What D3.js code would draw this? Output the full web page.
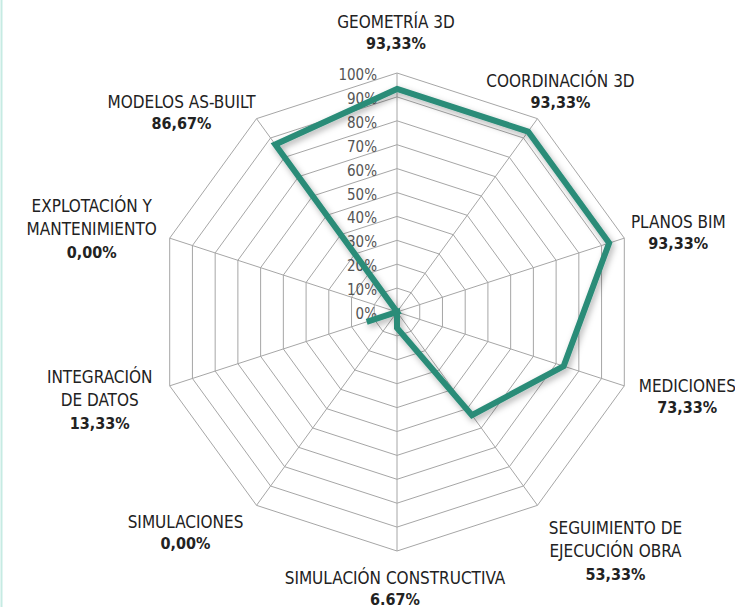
<!DOCTYPE html>
<html>
<head>
<meta charset="utf-8">
<script src="https://cdn.jsdelivr.net/npm/d3@7"></script>
<style>
  body { margin: 0; background: #fff; }
  svg { display: block; }
  .lab { font-family: "Liberation Sans Narrow", "DejaVu Sans Condensed", sans-serif; fill: #222; }
</style>
</head>
<body>
<div id="chart"></div>
<script>
// data
var categories = [
    ["GEOMETRÍA 3D"],
    ["COORDINACIÓN 3D"],
    ["PLANOS BIM"],
    ["MEDICIONES"],
    ["SEGUIMIENTO DE", "EJECUCIÓN OBRA"],
    ["SIMULACIÓN CONSTRUCTIVA"],
    ["SIMULACIONES"],
    ["INTEGRACIÓN", "DE DATOS"],
    ["EXPLOTACIÓN Y", "MANTENIMIENTO"],
    ["MODELOS AS-BUILT"]
];
var values = [93.33, 93.33, 93.33, 73.33, 53.33, 6.67, 0, 13.33, 0, 86.67];
var valueLabels = ["93,33%", "93,33%", "93,33%", "73,33%", "53,33%", "6.67%", "0,00%", "13,33%", "0,00%", "86,67%"];
var ticks = [0, 10, 20, 30, 40, 50, 60, 70, 80, 90, 100];

var width = 735,
    height = 607,
    cx = 397,
    cy = 312,
    radius = 239,
    lineGap = 23;

// where each category label sits relative to its outer vertex (center x, first baseline)
var labelShift = [[-1, -45], [23, -32], [54, -10], [63, 6], [78, 29],
                  [-2, 33], [-71, 23], [-70, -3], [-78, -26], [-75, -11]];

var svg = d3.select('#chart')
    .append('svg')
    .attr('width', width)
    .attr('height', height);

var defs = svg.append('defs');
var filt = defs.append('filter').attr('id', 'shadow')
    .attr('x', '-20%').attr('y', '-20%').attr('width', '140%').attr('height', '140%');
filt.append('feDropShadow')
    .attr('dx', 2).attr('dy', 3).attr('stdDeviation', 3)
    .attr('flood-color', '#000').attr('flood-opacity', 0.3);

// frame edge on the left
svg.append('rect')
    .attr('x', 1.5).attr('y', -20)
    .attr('width', 800).attr('height', 640)
    .attr('rx', 14)
    .attr('fill', 'none')
    .attr('stroke', '#c6ebe3')
    .attr('stroke-width', 2);

var r = d3.scaleLinear().domain([0, 100]).range([0, radius]);
var angle = d3.scaleLinear().domain([0, categories.length]).range([0, 2 * Math.PI]);

function pt(i, v) {
    var a = angle(i);
    return [cx + r(v) * Math.sin(a), cy - r(v) * Math.cos(a)];
}

var idx = d3.range(categories.length);

// rings
svg.selectAll('polygon.ring')
    .data(ticks.slice(1))
    .enter()
    .append('polygon')
    .attr('class', 'ring')
    .attr('points', function (t) {
        return idx.map(function (i) { return pt(i, t).join(','); }).join(' ');
    })
    .attr('fill', 'none')
    .attr('stroke', '#a6a6a6')
    .attr('stroke-width', 1);

// spokes
svg.selectAll('line.spoke')
    .data(idx)
    .enter()
    .append('line')
    .attr('class', 'spoke')
    .attr('x1', cx).attr('y1', cy)
    .attr('x2', function (i) { return pt(i, 100)[0]; })
    .attr('y2', function (i) { return pt(i, 100)[1]; })
    .attr('stroke', '#a6a6a6')
    .attr('stroke-width', 1);

// tick labels
svg.selectAll('text.tick')
    .data(ticks)
    .enter()
    .append('text')
    .attr('class', 'lab tick')
    .attr('x', cx - 20)
    .attr('y', function (t) { return cy - r(t) + 7; })
    .attr('text-anchor', 'end')
    .style('font-size', '15px')
    .style('fill', '#555')
    .text(function (t) { return t + '%'; });

// series
var line = d3.lineRadial()
    .angle(function (d, i) { return angle(i); })
    .radius(function (d) { return r(d); })
    .curve(d3.curveLinearClosed);

svg.append('path')
    .datum(values)
    .attr('transform', 'translate(' + cx + ',' + cy + ')')
    .attr('d', line)
    .attr('fill', 'none')
    .attr('stroke', '#2a8c78')
    .attr('stroke-width', 6)
    .attr('stroke-linejoin', 'miter')
    .attr('filter', 'url(#shadow)');

// category labels
var labels = svg.selectAll('g.cat')
    .data(idx)
    .enter()
    .append('g')
    .attr('class', 'cat')
    .attr('transform', function (i) {
        var p = pt(i, 100);
        return 'translate(' + (p[0] + labelShift[i][0]) + ',' + (p[1] + labelShift[i][1]) + ')';
    });

labels.each(function (i) {
    var g = d3.select(this);
    categories[i].forEach(function (s, k) {
        g.append('text')
            .attr('class', 'lab')
            .attr('y', k * lineGap)
            .attr('text-anchor', 'middle')
            .style('font-size', '17px')
            .text(s);
    });
    g.append('text')
        .attr('class', 'lab')
        .attr('y', categories[i].length * (categories[i].length > 1 ? lineGap : lineGap - 2))
        .attr('text-anchor', 'middle')
        .style('font-size', '16px')
        .style('font-weight', 'bold')
        .text(valueLabels[i]);
});
</script>
</body>
</html>
